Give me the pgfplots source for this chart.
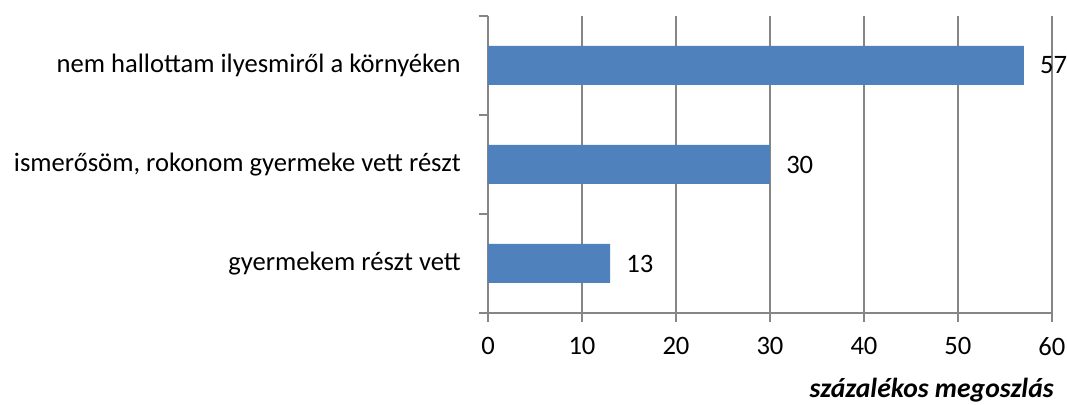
\documentclass[border=0pt]{standalone}
\usepackage{fontspec}
\setmainfont{Carlito}
\usepackage{pgfplots}
\pgfplotsset{compat=1.18}
\definecolor{barblue}{HTML}{4F81BD}
\definecolor{axisgray}{HTML}{868686}
\newcommand{\chartfont}{\fontsize{13.3}{16}\selectfont}
\begin{document}
\chartfont
\begin{tikzpicture}
\path[use as bounding box] (-244pt,-46pt) rectangle (289.5pt,156.5pt);
\begin{axis}[
    xbar,
    scale only axis,
    width=282pt, height=148.5pt,
    xmin=0, xmax=60,
    ymin=-0.5, ymax=2.5,
    xtick={0,10,...,60},
    ytick={-0.5,0.5,1.5,2.5},
    yticklabels={},
    extra y ticks={0,1,2},
    extra y tick labels={gyermekem részt vett, {ismerősöm, rokonom gyermeke vett részt}, nem hallottam ilyesmiről a környéken},
    extra y tick style={major tick length=0pt, yticklabel style={xshift=-9pt}},
    axis x line*=bottom,
    axis y line*=left,
    axis line style={axisgray, line width=0.9pt},
    tick align=outside,
    major tick length=4.5pt,
    tick style={axisgray, line width=0.9pt},
    xmajorgrids,
    grid style={axisgray, line width=0.9pt},
    /pgf/number format/assume math mode=true,
    xticklabel style={font=\chartfont, yshift=-3pt},
    yticklabel style={font=\chartfont},
    bar width=19.5pt,
    bar shift=0pt,
    nodes near coords,
    every node near coord/.append style={anchor=west, xshift=3.5pt, font=\chartfont, black},
    xlabel={\bfseries\itshape százalékos megoszlás},
    xlabel style={at={(rel axis cs:1.0195,0)}, anchor=base east, yshift=-42.5pt, font=\fontsize{13.8}{16}\selectfont},
    clip=false,
]
\addplot[fill=barblue, draw=none] coordinates {(13,0) (30,1) (57,2)};
\end{axis}
\end{tikzpicture}
\end{document}
